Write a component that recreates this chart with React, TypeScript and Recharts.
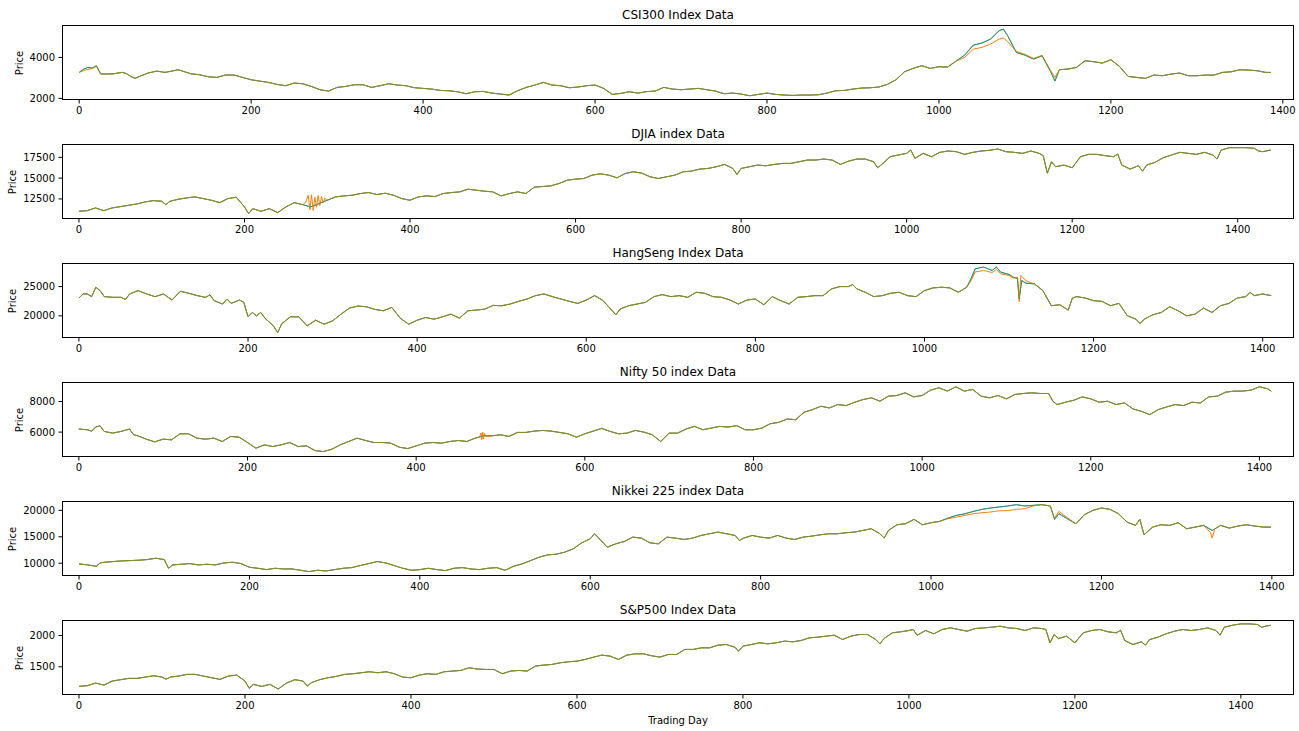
import React from 'react';
import { LineChart, Line, XAxis, YAxis } from 'recharts';

type Pt = [number, number];

// [trading day, price], roughly every 10 days
const csi300Actual: Pt[] = [
  [0, 3268], [5, 3420], [10, 3510], [15, 3480], [20, 3590], [25, 3190], [30, 3190], [40, 3200], [50, 3270], [55, 3210],
  [60, 3073], [65, 2980], [70, 3070], [80, 3235], [90, 3330], [100, 3270], [110, 3350], [115, 3400], [120, 3333], [130, 3200],
  [140, 3155], [150, 3057], [160, 3024], [170, 3140], [180, 3140], [190, 3025], [200, 2910], [210, 2845], [220, 2780], [230, 2683],
  [240, 2618], [250, 2748], [260, 2715], [270, 2585], [280, 2423], [290, 2358], [300, 2537], [310, 2585], [320, 2667], [330, 2667],
  [340, 2537], [350, 2618], [360, 2715], [370, 2650], [380, 2618], [390, 2520], [400, 2488], [410, 2455], [420, 2390], [430, 2374],
  [440, 2325], [450, 2228], [460, 2325], [470, 2341], [480, 2260], [490, 2211], [500, 2163], [510, 2374], [520, 2537], [530, 2650],
  [540, 2780], [550, 2650], [560, 2618], [570, 2520], [580, 2553], [590, 2618], [600, 2650], [610, 2488], [620, 2195], [630, 2244],
  [640, 2325], [650, 2260], [660, 2330], [670, 2358], [680, 2537], [690, 2455], [700, 2423], [710, 2455], [720, 2488], [730, 2423],
  [740, 2358], [750, 2228], [760, 2260], [770, 2211], [780, 2130], [790, 2195], [800, 2260], [810, 2195], [820, 2163], [830, 2146],
  [840, 2163], [850, 2163], [860, 2179], [870, 2260], [880, 2374], [890, 2390], [900, 2455], [910, 2504], [920, 2520], [930, 2553],
  [940, 2683], [950, 2910], [960, 3300], [970, 3463], [980, 3594], [990, 3463], [1000, 3545], [1010, 3528], [1020, 3821], [1030, 4114],
  [1040, 4601], [1050, 4700], [1060, 4894], [1070, 5300], [1075, 5380], [1080, 5057], [1090, 4244], [1100, 4114], [1110, 3919], [1120, 4081],
  [1130, 3300], [1135, 2846], [1140, 3398], [1150, 3430], [1160, 3512], [1170, 3837], [1180, 3789], [1190, 3724], [1200, 3886], [1210, 3561],
  [1220, 3073], [1230, 3024], [1240, 2976], [1250, 3138], [1260, 3106], [1270, 3187], [1280, 3236], [1290, 3106], [1300, 3106], [1310, 3138],
  [1320, 3138], [1330, 3268], [1340, 3300], [1350, 3398], [1360, 3382], [1370, 3350], [1380, 3268], [1386, 3268],
];
const csi300PredSegments: Pt[][] = [
  [[0, 3268], [5, 3350], [10, 3420], [15, 3450], [20, 3560], [25, 3190]],
  [[1020, 3821], [1030, 4000], [1040, 4406], [1050, 4488], [1060, 4650], [1070, 4894], [1075, 4950], [1080, 4764], [1090, 4300],
    [1100, 4150], [1110, 3950], [1120, 4100], [1130, 3350], [1135, 3024], [1140, 3398]],
];

const djiaActual: Pt[] = [
  [0, 11009], [10, 11090], [20, 11412], [25, 11250], [30, 11090], [40, 11412], [50, 11573], [60, 11734], [70, 11895], [80, 12137],
  [90, 12298], [100, 12218], [105, 11815], [110, 12218], [120, 12460], [130, 12621], [140, 12742], [150, 12540], [160, 12339], [170, 12057],
  [180, 12540], [190, 12701], [200, 11533], [205, 10727], [210, 11331], [220, 11009], [230, 11331], [240, 10848], [250, 11533], [260, 12057],
  [270, 11815], [280, 11533], [290, 11936], [300, 12339], [310, 12742], [320, 12863], [330, 12943], [340, 13145], [350, 13266], [360, 13024],
  [370, 13185], [380, 12943], [390, 12540], [400, 12339], [410, 12742], [420, 12863], [430, 12782], [440, 13145], [450, 13266], [460, 13346],
  [470, 13669], [480, 13548], [490, 13427], [500, 13346], [510, 12863], [520, 13145], [530, 13346], [540, 13145], [550, 13910], [560, 13991],
  [570, 14071], [580, 14354], [590, 14757], [600, 14878], [610, 14958], [620, 15361], [630, 15522], [640, 15361], [650, 15039], [660, 15563],
  [670, 15764], [680, 15603], [690, 15160], [700, 14958], [710, 15160], [720, 15361], [730, 15764], [740, 15845], [750, 16087], [760, 16167],
  [770, 16369], [780, 16651], [790, 16167], [795, 15442], [800, 16167], [810, 16369], [820, 16570], [830, 16490], [840, 16651], [850, 16772],
  [860, 16772], [870, 16973], [880, 17175], [890, 17175], [900, 17296], [910, 17175], [920, 16651], [930, 17054], [940, 17296], [950, 17296],
  [960, 16973], [965, 16248], [970, 16651], [980, 17578], [990, 17779], [1000, 17981], [1005, 18384], [1010, 17376], [1020, 17981], [1030, 17578],
  [1040, 18102], [1050, 18263], [1060, 18182], [1070, 17860], [1080, 18102], [1090, 18263], [1100, 18344], [1110, 18505], [1120, 18182], [1130, 18102],
  [1140, 17981], [1150, 18263], [1160, 17981], [1165, 17700], [1170, 15600], [1175, 16973], [1180, 16369], [1190, 16570], [1200, 16248], [1210, 17578],
  [1220, 17860], [1230, 17860], [1240, 17700], [1250, 17578], [1255, 17900], [1260, 16570], [1270, 16087], [1280, 16490], [1285, 15845], [1290, 16570],
  [1300, 16893], [1310, 17457], [1320, 17779], [1330, 18102], [1340, 17981], [1350, 17860], [1360, 18102], [1370, 17779], [1375, 17296], [1380, 18384],
  [1390, 18666], [1400, 18666], [1410, 18666], [1420, 18585], [1425, 18263], [1430, 18182], [1440, 18384],
];
const djiaPredSegments: Pt[][] = [
  [[270, 11815], [274, 12100], [277, 12950], [279, 11200], [281, 13000], [283, 11100], [285, 12700], [287, 11500], [289, 12900],
    [291, 11700], [293, 12800], [295, 12000], [297, 12600], [300, 12339]],
];

const hangSengActual: Pt[] = [
  [0, 23048], [5, 23738], [10, 23738], [15, 23278], [20, 24888], [25, 24313], [30, 23278], [40, 23163], [50, 23163], [55, 22800],
  [60, 23738], [70, 24313], [80, 23738], [90, 23278], [100, 23738], [110, 22703], [120, 24198], [130, 23853], [140, 23450], [150, 23163],
  [155, 23600], [160, 22588], [170, 22013], [175, 22875], [180, 22128], [190, 22703], [195, 22300], [200, 19828], [205, 20575], [210, 20000],
  [215, 20575], [220, 19598], [230, 18275], [235, 17125], [240, 18678], [250, 19828], [260, 19828], [270, 18275], [280, 19253], [290, 18563],
  [300, 19138], [310, 20288], [320, 21323], [330, 21668], [340, 21553], [350, 21093], [360, 20863], [370, 21438], [380, 19598], [390, 18563],
  [400, 19253], [410, 19713], [420, 19425], [430, 19828], [440, 20288], [450, 19598], [460, 20863], [470, 20978], [480, 21150], [490, 21783],
  [500, 21725], [510, 22013], [520, 22473], [530, 22875], [540, 23450], [550, 23738], [560, 23278], [570, 22875], [580, 22473], [590, 22128],
  [600, 22703], [610, 23450], [620, 22588], [630, 20978], [635, 20173], [640, 21150], [650, 21725], [660, 22013], [670, 22300], [680, 23278],
  [690, 23623], [700, 23278], [710, 23450], [720, 23163], [730, 24025], [740, 23853], [750, 23278], [760, 23163], [770, 22703], [780, 22013],
  [790, 22703], [800, 22875], [810, 21898], [820, 23278], [830, 22588], [840, 22013], [850, 23163], [860, 23278], [870, 23450], [880, 23450],
  [890, 24600], [900, 25003], [910, 25003], [915, 25348], [920, 24600], [930, 24025], [940, 23278], [950, 23450], [960, 23853], [970, 24025],
  [980, 23450], [990, 23278], [1000, 24313], [1010, 24773], [1020, 24888], [1030, 24773], [1040, 24025], [1050, 24888], [1055, 26325], [1060, 28050],
  [1070, 28338], [1080, 27763], [1085, 28338], [1090, 27475], [1100, 27073], [1105, 26613], [1110, 26325], [1112, 22875], [1115, 26038], [1120, 25578],
  [1130, 25463], [1140, 24313], [1150, 21725], [1160, 21898], [1170, 20978], [1175, 23048], [1180, 23278], [1190, 23048], [1200, 22588], [1210, 22473],
  [1220, 21725], [1230, 22128], [1240, 20000], [1250, 19425], [1255, 18678], [1260, 19425], [1270, 20173], [1280, 20575], [1290, 21553], [1300, 20863],
  [1310, 20000], [1320, 20288], [1330, 21323], [1340, 20575], [1350, 21725], [1360, 22128], [1370, 23048], [1380, 23278], [1385, 24025], [1390, 23450],
  [1400, 23738], [1410, 23450],
];
const hangSengPredSegments: Pt[][] = [
  [[1055, 26000], [1060, 27500], [1070, 27763], [1080, 27400], [1085, 27900], [1090, 27200], [1100, 26900], [1105, 26500], [1110, 26600],
    [1112, 22400], [1114, 26900], [1120, 26000], [1125, 25700]],
];

const niftyActual: Pt[] = [
  [0, 6198], [10, 6154], [15, 6066], [20, 6330], [25, 6418], [30, 6044], [40, 5934], [50, 6044], [60, 6198], [65, 5824],
  [70, 5758], [80, 5538], [90, 5363], [100, 5538], [110, 5494], [120, 5890], [130, 5890], [140, 5604], [150, 5538], [160, 5604],
  [170, 5385], [180, 5714], [190, 5670], [200, 5319], [210, 4945], [220, 5165], [230, 5055], [240, 5165], [250, 5319], [260, 5055],
  [270, 5099], [280, 4791], [290, 4725], [300, 4879], [310, 5165], [320, 5385], [330, 5604], [340, 5450], [350, 5319], [360, 5319],
  [370, 5275], [380, 5011], [390, 4923], [400, 5099], [410, 5275], [420, 5319], [430, 5275], [440, 5385], [450, 5450], [460, 5385],
  [470, 5604], [480, 5758], [490, 5758], [500, 5824], [510, 5714], [520, 5978], [530, 5978], [540, 6066], [550, 6110], [560, 6066],
  [570, 5978], [580, 5890], [590, 5670], [600, 5890], [610, 6066], [620, 6242], [630, 6044], [640, 5890], [650, 5934], [660, 6110],
  [670, 6000], [680, 5824], [690, 5385], [700, 5934], [710, 5934], [720, 6198], [730, 6374], [740, 6154], [750, 6264], [760, 6374],
  [770, 6330], [780, 6418], [790, 6154], [800, 6154], [810, 6264], [820, 6550], [830, 6637], [840, 6857], [850, 6813], [860, 7297],
  [870, 7473], [880, 7692], [890, 7582], [900, 7802], [910, 7736], [920, 7956], [930, 8132], [940, 8242], [950, 8022], [960, 8352],
  [970, 8396], [980, 8572], [990, 8308], [1000, 8396], [1010, 8748], [1020, 8901], [1030, 8682], [1040, 8967], [1050, 8682], [1060, 8791],
  [1070, 8352], [1080, 8242], [1090, 8396], [1100, 8176], [1110, 8462], [1120, 8528], [1130, 8572], [1140, 8528], [1150, 8528], [1155, 8022],
  [1160, 7802], [1170, 7956], [1180, 8088], [1190, 8308], [1200, 8176], [1210, 7956], [1220, 8022], [1230, 7802], [1240, 7912], [1250, 7517],
  [1260, 7363], [1270, 7143], [1280, 7473], [1290, 7648], [1300, 7802], [1310, 7736], [1320, 7956], [1330, 7912], [1340, 8308], [1350, 8352],
  [1360, 8616], [1370, 8682], [1380, 8682], [1390, 8748], [1400, 8967], [1410, 8835], [1414, 8682],
];
const niftyPredSegments: Pt[][] = [
  [[470, 5604], [475, 5650], [477, 5950], [478, 5500], [479, 6000], [480, 5550], [481, 5900], [483, 5700], [490, 5758]],
];

const nikkeiActual: Pt[] = [
  [0, 9873], [10, 9684], [20, 9430], [25, 10063], [30, 10190], [40, 10316], [50, 10443], [60, 10506], [70, 10570], [80, 10696],
  [90, 10949], [100, 10696], [105, 9051], [110, 9684], [120, 9810], [130, 9937], [140, 9684], [150, 9810], [160, 9684], [170, 10063],
  [180, 10190], [190, 9937], [200, 9240], [210, 9051], [220, 8797], [230, 9051], [240, 8924], [250, 8924], [260, 8671], [270, 8418],
  [280, 8671], [290, 8544], [300, 8797], [310, 9051], [320, 9177], [330, 9557], [340, 9937], [350, 10316], [360, 10063], [370, 9557],
  [380, 9051], [390, 8671], [400, 8797], [410, 9051], [420, 8797], [430, 8608], [440, 9051], [450, 9177], [460, 8924], [470, 8797],
  [480, 9051], [490, 9177], [500, 8671], [510, 9430], [520, 9873], [530, 10506], [540, 11139], [550, 11582], [560, 11709], [570, 12089],
  [580, 12722], [590, 13861], [600, 14620], [605, 15570], [610, 14747], [620, 13038], [630, 13671], [640, 14114], [650, 14937], [660, 14747],
  [670, 13861], [680, 13671], [690, 14937], [700, 14747], [710, 14494], [720, 14747], [730, 15253], [740, 15570], [750, 15886], [760, 15570],
  [770, 15253], [775, 14304], [780, 14747], [790, 15253], [800, 14937], [810, 14747], [820, 15253], [830, 14747], [840, 14494], [850, 14937],
  [860, 15127], [870, 15380], [880, 15570], [890, 15570], [900, 15759], [910, 15886], [920, 16202], [930, 16519], [940, 15570], [945, 14747],
  [950, 16202], [960, 17278], [970, 17468], [980, 18291], [990, 17278], [1000, 17658], [1010, 17911], [1020, 18550], [1030, 19050], [1040, 19367],
  [1050, 19810], [1060, 20190], [1070, 20443], [1080, 20633], [1090, 20823], [1100, 21076], [1110, 20823], [1120, 20949], [1130, 21076], [1140, 20823],
  [1145, 18291], [1150, 19367], [1160, 18418], [1170, 17468], [1180, 19177], [1190, 20000], [1200, 20443], [1210, 20190], [1220, 19367], [1230, 17785],
  [1240, 17152], [1245, 18291], [1250, 15380], [1260, 16835], [1270, 17278], [1280, 17152], [1290, 17658], [1300, 16519], [1310, 16835], [1320, 17152],
  [1330, 16202], [1340, 17152], [1350, 16645], [1360, 17025], [1370, 17278], [1380, 17025], [1390, 16835], [1399, 16835],
];
const nikkeiPredSegments: Pt[][] = [
  [[1010, 17911], [1020, 18418], [1030, 18734], [1040, 19050], [1050, 19367], [1060, 19557], [1070, 19684], [1080, 19937], [1090, 19937],
    [1100, 20190], [1110, 20316], [1120, 20823], [1130, 21076]],
  [[1140, 20823], [1145, 18500], [1150, 19810], [1160, 18600]],
  [[1320, 17152], [1328, 15800], [1330, 14747], [1333, 16500], [1340, 17152]],
];

const sp500Actual: Pt[] = [
  [0, 1186], [10, 1197], [20, 1239], [30, 1207], [40, 1271], [50, 1293], [60, 1314], [70, 1314], [80, 1335], [90, 1356],
  [100, 1335], [105, 1300], [110, 1335], [120, 1351], [130, 1378], [140, 1378], [150, 1351], [160, 1324], [170, 1298], [180, 1351],
  [190, 1367], [200, 1271], [205, 1154], [210, 1218], [220, 1186], [230, 1218], [240, 1144], [250, 1239], [260, 1293], [270, 1271],
  [275, 1191], [280, 1245], [290, 1293], [300, 1324], [310, 1346], [320, 1378], [330, 1388], [340, 1404], [350, 1420], [360, 1404],
  [370, 1420], [380, 1388], [390, 1335], [400, 1324], [410, 1367], [420, 1388], [430, 1378], [440, 1420], [450, 1431], [460, 1441],
  [470, 1484], [480, 1463], [490, 1457], [500, 1457], [510, 1388], [520, 1431], [530, 1441], [540, 1431], [550, 1511], [560, 1527],
  [570, 1537], [580, 1564], [590, 1580], [600, 1590], [610, 1617], [620, 1654], [630, 1686], [640, 1670], [650, 1617], [660, 1686],
  [670, 1707], [680, 1707], [690, 1676], [700, 1654], [710, 1697], [720, 1697], [730, 1777], [740, 1777], [750, 1803], [760, 1803],
  [770, 1846], [780, 1856], [790, 1814], [795, 1750], [800, 1830], [810, 1856], [820, 1883], [830, 1867], [840, 1883], [850, 1910],
  [860, 1899], [870, 1920], [880, 1963], [890, 1973], [900, 1989], [910, 2005], [920, 1936], [930, 1989], [940, 2016], [950, 2016],
  [960, 1936], [965, 1867], [970, 1952], [980, 2043], [990, 2059], [1000, 2080], [1005, 2096], [1010, 2005], [1020, 2080], [1030, 2027],
  [1040, 2096], [1050, 2122], [1060, 2096], [1070, 2069], [1080, 2112], [1090, 2122], [1100, 2133], [1110, 2149], [1120, 2122], [1130, 2112],
  [1140, 2080], [1150, 2122], [1160, 2112], [1165, 2096], [1170, 1883], [1175, 2016], [1180, 1952], [1190, 1989], [1200, 1883], [1210, 2043],
  [1220, 2080], [1230, 2096], [1240, 2059], [1250, 2043], [1255, 2085], [1260, 1920], [1270, 1856], [1280, 1899], [1285, 1846], [1290, 1936],
  [1300, 1973], [1310, 2027], [1320, 2069], [1330, 2096], [1340, 2080], [1350, 2096], [1360, 2122], [1370, 2080], [1375, 2005], [1380, 2133],
  [1390, 2165], [1400, 2186], [1410, 2186], [1420, 2176], [1425, 2133], [1430, 2149], [1436, 2165],
];

const xTicks = [0, 200, 400, 600, 800, 1000, 1200, 1400];

const panels = [
  { title: 'CSI300 Index Data', actual: csi300Actual, pred: csi300PredSegments, xDomain: [-20, 1413], yDomain: [1922, 5581], yTicks: [2000, 4000], labelX: 20 },
  { title: 'DJIA index Data', actual: djiaActual, pred: djiaPredSegments, xDomain: [-20.5, 1468], yDomain: [10084, 19107], yTicks: [12500, 15000, 17500], labelX: 13 },
  { title: 'HangSeng Index Data', actual: hangSengActual, pred: hangSengPredSegments, xDomain: [-20, 1437], yDomain: [16207, 29034], yTicks: [20000, 25000], labelX: 13 },
  { title: 'Nifty 50 index Data', actual: niftyActual, pred: niftyPredSegments, xDomain: [-20, 1441], yDomain: [4370, 9280], yTicks: [6000, 8000], labelX: 20 },
  { title: 'Nikkei 225 index Data', actual: nikkeiActual, pred: nikkeiPredSegments, xDomain: [-20, 1426], yDomain: [7590, 21765], yTicks: [10000, 15000, 20000], labelX: 13 },
  { title: 'S&P500 Index Data', actual: sp500Actual, pred: [] as Pt[][], xDomain: [-20.5, 1464], yDomain: [1048, 2248], yTicks: [1500, 2000], labelX: 20 },
];

const toRows = (pts: Pt[]) => pts.map(([day, price]) => ({ day, price }));

// predicted series follows the actual one except where a segment was read separately
const mergeSegments = (base: Pt[], segs: Pt[][]) => {
  let out = base;
  segs.forEach((seg) => {
    const lo = seg[0][0];
    const hi = seg[seg.length - 1][0];
    out = out.filter(([d]) => d < lo || d > hi).concat(seg);
  });
  return [...out].sort((a, b) => a[0] - b[0]);
};

const FONT = 'DejaVu Sans, sans-serif';
const PANEL_H = 119;

const Panel = ({ p, index }: { p: (typeof panels)[number]; index: number }) => {
  const actualRows = toRows(p.actual);
  const predRows = toRows(mergeSegments(p.actual, p.pred));
  return (
    <div style={{ position: 'absolute', left: 0, top: index * PANEL_H, width: 1299, height: PANEL_H }}>
      <LineChart width={1299} height={PANEL_H} margin={{ top: 25, right: 5, bottom: 0, left: 0 }}>
        <XAxis
          type="number"
          dataKey="day"
          domain={p.xDomain}
          ticks={xTicks}
          interval={0}
          allowDataOverflow
          height={19}
          tickSize={3.5}
          tickMargin={3}
          axisLine={false}
          tickLine={{ stroke: '#000' }}
          tick={{ fill: '#000', fontSize: 10, fontFamily: FONT }}
        />
        <YAxis
          type="number"
          dataKey="price"
          domain={p.yDomain}
          ticks={p.yTicks}
          interval={0}
          allowDataOverflow
          width={62}
          tickSize={3.5}
          tickMargin={3.5}
          axisLine={false}
          tickLine={{ stroke: '#000' }}
          tick={{ fill: '#000', fontSize: 10, fontFamily: FONT }}
        />
        <Line data={actualRows} dataKey="price" stroke="#1f77b4" strokeWidth={1} dot={false} isAnimationActive={false} />
        <Line data={predRows} dataKey="price" stroke="#ff7f0e" strokeWidth={1} dot={false} isAnimationActive={false} />
        <Line data={actualRows} dataKey="price" stroke="#2ca02c" strokeOpacity={0.6} strokeWidth={1} dot={false} isAnimationActive={false} />
      </LineChart>
      <div
        style={{
          position: 'absolute', left: 62, top: 25, width: 1232, height: 75,
          border: '1px solid #000', boxSizing: 'border-box', pointerEvents: 'none',
        }}
      />
      <div
        style={{
          position: 'absolute', left: 62, width: 1232, top: 8, textAlign: 'center',
          fontSize: 12, lineHeight: '14px', fontFamily: FONT, color: '#000',
        }}
      >
        {p.title}
      </div>
      <div
        style={{
          position: 'absolute', left: p.labelX - 30, top: 62.5 - 7, width: 60, height: 14,
          transform: 'rotate(-90deg)', textAlign: 'center', fontSize: 10, lineHeight: '14px',
          fontFamily: FONT, color: '#000',
        }}
      >
        Price
      </div>
    </div>
  );
};

export default function App() {
  return (
    <div style={{ position: 'absolute', left: 0, top: 0, width: 1299, height: 731, background: '#fff', fontFamily: FONT }}>
      {panels.map((p, i) => (
        <Panel key={p.title} p={p} index={i} />
      ))}
      <div
        style={{
          position: 'absolute', left: 62, width: 1232, top: 714, textAlign: 'center',
          fontSize: 10, lineHeight: '14px', fontFamily: FONT, color: '#000',
        }}
      >
        Trading Day
      </div>
    </div>
  );
}
